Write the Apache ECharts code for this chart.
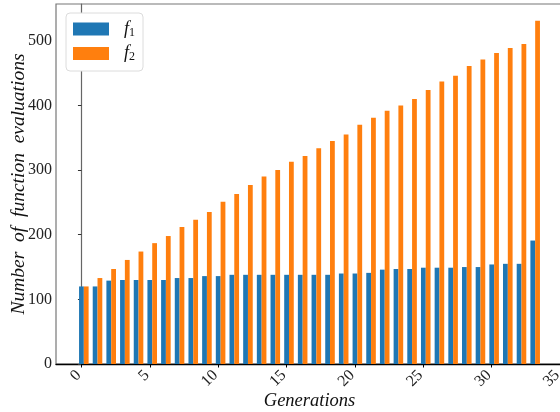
<!DOCTYPE html>
<html><head><meta charset="utf-8">
<script src="https://cdn.jsdelivr.net/npm/echarts@6/dist/echarts.min.js"></script>
<style>html,body{margin:0;padding:0;background:#fff}#c{width:560px;height:412px}</style>
</head><body><div id="c"></div>
<script>
const generations = [0,1,2,3,4,5,6,7,8,9,10,11,12,13,14,15,16,17,18,19,20,21,22,23,24,25,26,27,28,29,30,31,32,33];
const f1 = [120,120,129,130,130,130,130,133,133,136,136,138,138,138,138,138,138,138,138,140,140,141,146,147,147,149,149,149,150,150,154,155,155,191];
const f2 = [120,133,147,161,174,187,198,212,223,235,251,263,277,290,300,313,322,334,345,355,370,381,392,400,410,424,437,446,461,471,481,489,495,531];
const xTicks = [0,5,10,15,20,25,30,35];
const yTicks = [0,100,200,300,400,500];
const seriesNames = ['f1','f2'];

const BW = 0.35;
function makeRender(shift){
  return function(params, api){
    const x = api.value(0), v = api.value(1);
    const a = api.coord([x + shift - BW/2, v]);
    const b = api.coord([x + shift + BW/2, 0]);
    return {type:'rect', shape:{x:a[0], y:a[1], width:b[0]-a[0], height:b[1]-a[1]}, style:{fill: api.visual('color')}};
  };
}
const serif = 'Liberation Serif';
const chart = echarts.init(document.getElementById('c'), null, {renderer:'canvas'});
chart.setOption({
  animation:false,
  backgroundColor:'#fff',
  grid:{left:56, top:4, right:-3, bottom:48, containLabel:false, outerBoundsMode:'none',
        show:true, borderColor:'#777', borderWidth:1.2, backgroundColor:'transparent'},
  legend:{
    left:66, top:13, orient:'vertical', padding:[7,8,8,7],
    itemWidth:36, itemHeight:13, itemGap:6, icon:'rect',
    borderColor:'#dcdcdc', borderWidth:1, borderRadius:4, backgroundColor:'#fff',
    data: seriesNames,
    formatter: function(n){ return '{i|' + n[0] + '}{s|' + n.slice(1) + '}'; },
    textStyle:{padding:[0,0,0,10], rich:{
      i:{fontFamily:serif, fontStyle:'italic', fontSize:18, color:'#111', lineHeight:19},
      s:{fontFamily:serif, fontSize:12, color:'#111', verticalAlign:'bottom', lineHeight:14, padding:[6,0,0,0]}
    }}
  },
  xAxis:{
    type:'value', min:-1.86, max:35.21,
    name:'Generations', nameLocation:'middle', nameGap:28, nameMoveOverlap:false,
    nameTextStyle:{fontFamily:serif, fontStyle:'italic', fontSize:18.5, color:'#111'},
    axisLine:{show:true, onZero:false, lineStyle:{color:'#000', width:1.3}},
    axisTick:{show:true, length:3.5, customValues:xTicks, lineStyle:{color:'#000'}},
    axisLabel:{customValues:xTicks, rotate:45, margin:6, padding:[0,4,0,0], fontFamily:serif, fontSize:16, color:'#222'},
    splitLine:{show:false}
  },
  yAxis:{
    type:'value', min:0, max:557,
    name:'Number\u2002of\u2002function\u2002evaluations', nameLocation:'middle', nameGap:27, nameMoveOverlap:false,
    nameTextStyle:{fontFamily:serif, fontStyle:'italic', fontSize:19.5, color:'#111'},
    axisLine:{show:true, lineStyle:{color:'#666', width:1.2}},
    axisTick:{show:true, length:3.5, customValues:yTicks, lineStyle:{color:'#333'}},
    axisLabel:{customValues:yTicks, margin:4, fontFamily:serif, fontSize:16, color:'#222'},
    splitLine:{show:false}
  },
  series:[
    {name:'f1', type:'custom', renderItem:makeRender(0), itemStyle:{color:'#1f77b4'},
     encode:{x:0,y:1}, data: generations.map((g,i)=>[g,f1[i]])},
    {name:'f2', type:'custom', renderItem:makeRender(BW), itemStyle:{color:'#ff7f0e'},
     encode:{x:0,y:1}, data: generations.map((g,i)=>[g,f2[i]])}
  ]
});
</script></body></html>
